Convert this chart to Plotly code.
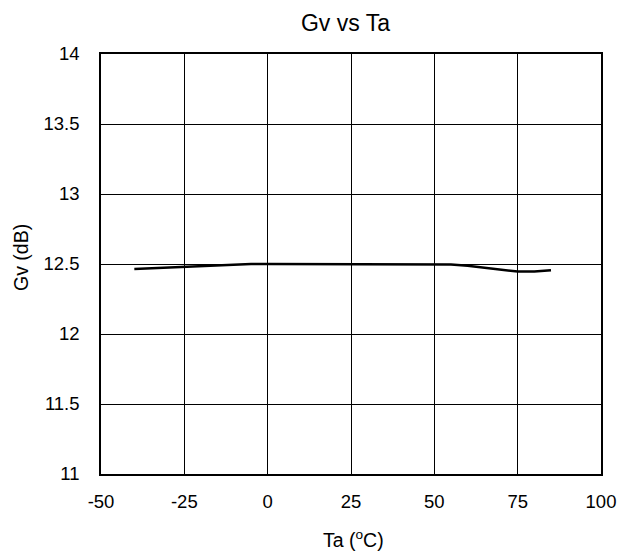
import plotly.graph_objects as go

ta = [-40, -35, -30, -25, -20, -15, -10, -5, 0, 25, 50, 55, 60, 65, 70, 75, 80, 85]
gv = [12.465, 12.47, 12.48, 12.484, 12.49, 12.49, 12.495, 12.5, 12.5, 12.5, 12.5,
      12.496, 12.487, 12.474, 12.46, 12.446, 12.446, 12.456]
x_ticks = [-50, -25, 0, 25, 50, 75, 100]
y_ticks = [11, 11.5, 12, 12.5, 13, 13.5, 14]

fig = go.Figure()
fig.add_trace(go.Scatter(x=ta, y=gv, mode="lines", line=dict(color="black", width=2.5),
                         showlegend=False))

FAM = "Liberation Sans, Arial, sans-serif"
font = dict(family=FAM, size=18.5, color="black")
fig.update_layout(
    width=628, height=554,
    margin=dict(l=93, r=35, t=46, b=88),
    paper_bgcolor="white", plot_bgcolor="white",
    font=font,
    title=dict(text="Gv vs Ta", x=0.5374, xanchor="center", y=0.9738, yanchor="middle",
               font=dict(family=FAM, size=23, color="black")),
    xaxis=dict(range=[-50, 100], tickvals=x_ticks, ticktext=[str(v) for v in x_ticks],
               showgrid=True, gridcolor="black", gridwidth=1, zeroline=False,
               showline=True, linecolor="black", linewidth=1.5, mirror=True,
               ticks="outside", ticklen=10, tickcolor="rgba(0,0,0,0)",
               tickfont=dict(family=FAM, size=18.5, color="black")),
    yaxis=dict(range=[11, 14], tickvals=y_ticks, ticktext=[str(v) for v in y_ticks],
               showgrid=True, gridcolor="black", gridwidth=1, zeroline=False,
               showline=True, linecolor="black", linewidth=1.5, mirror=True,
               ticks="outside", ticklen=16, tickcolor="rgba(0,0,0,0)",
               tickfont=dict(family=FAM, size=18.5, color="black")),
    annotations=[
        dict(text="Ta (<sup>o</sup>C)", xref="paper", yref="paper", x=0.504, y=-0.1548,
             xanchor="center", yanchor="middle", showarrow=False,
             font=dict(family=FAM, size=19.5, color="black")),
        dict(text="Gv (dB)", xref="paper", yref="paper", x=-0.159, y=0.5155,
             xanchor="center", yanchor="middle", showarrow=False, textangle=-90,
             font=dict(family=FAM, size=19.5, color="black")),
    ],
)
fig.write_html("out.html")
